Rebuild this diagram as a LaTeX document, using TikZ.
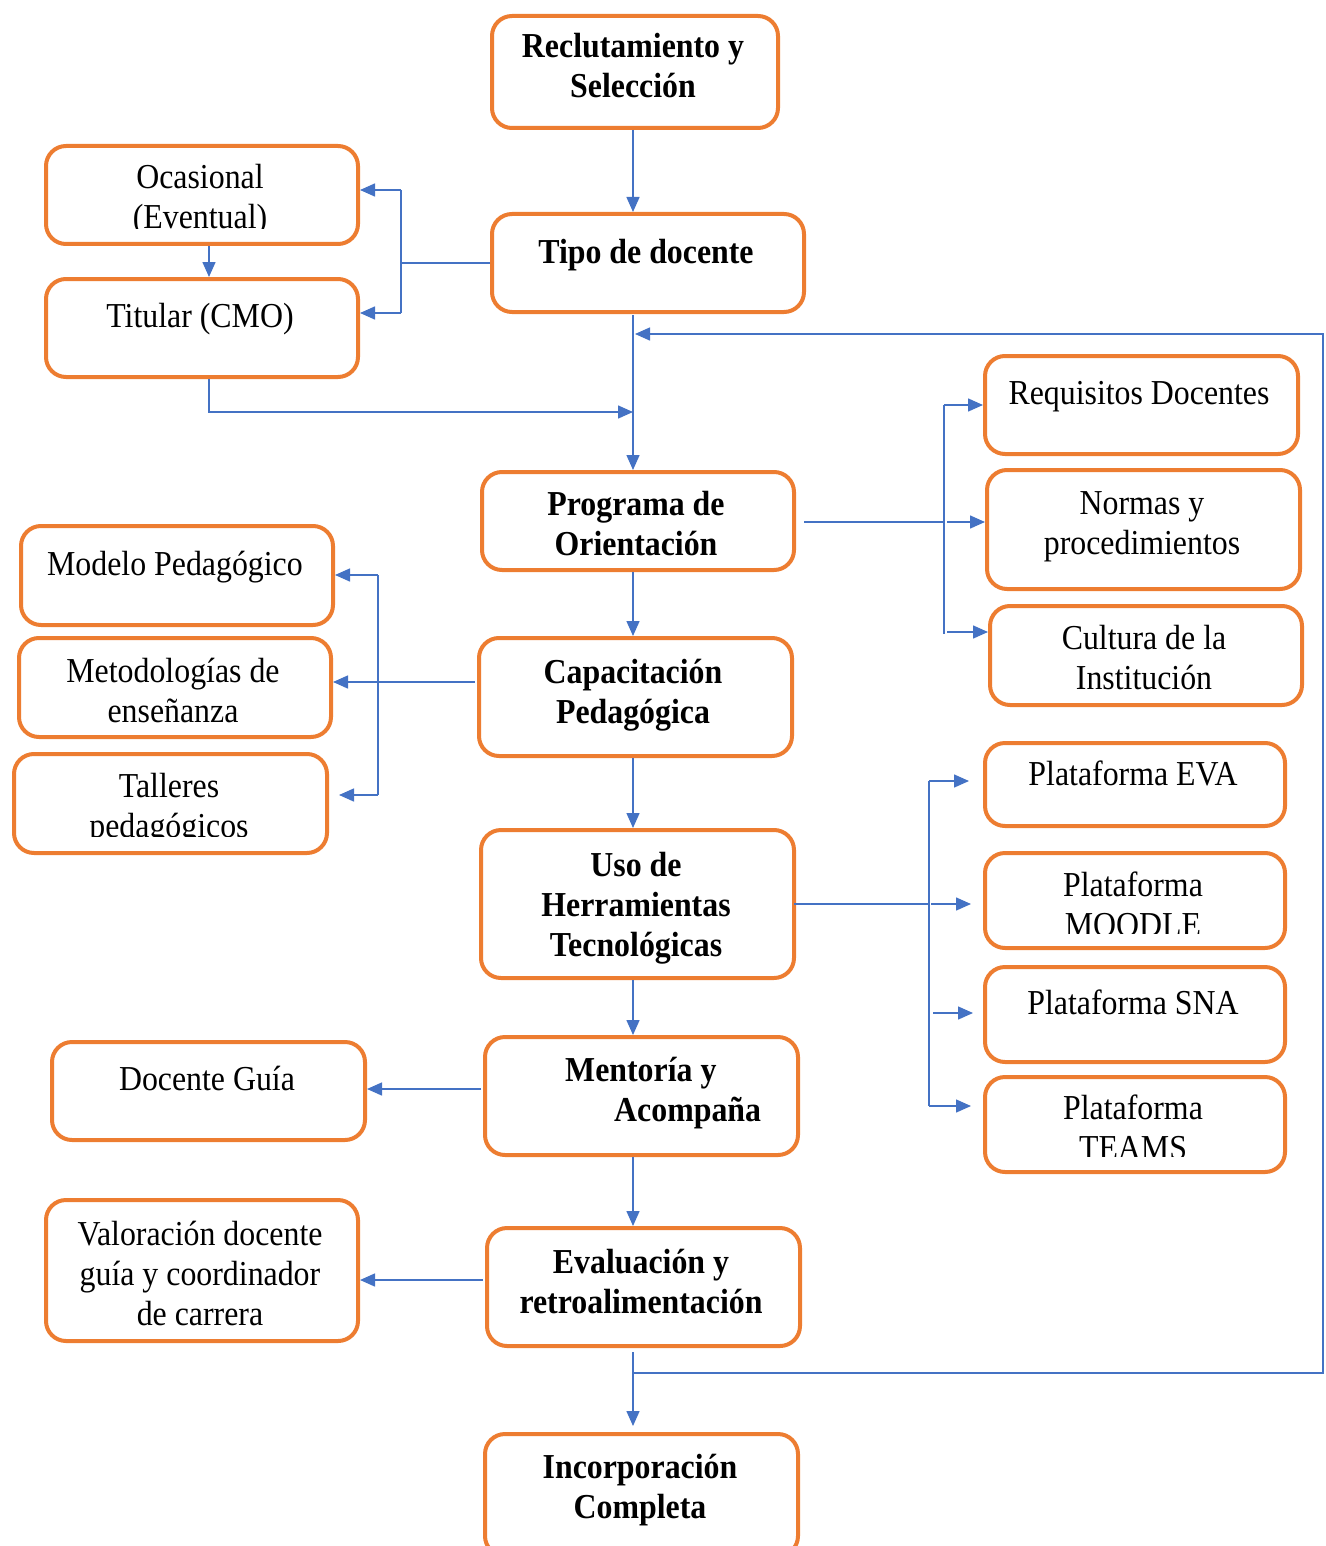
\documentclass[tikz,border=0pt]{standalone}
\usepackage{fontspec}
\setmainfont{Liberation Serif}[FakeStretch=0.91]
\usetikzlibrary{arrows.meta}
\definecolor{orng}{HTML}{ED7D31}
\definecolor{blu}{HTML}{4472C4}
\tikzset{
  box/.style={draw=orng, line width=4pt, rounded corners=20pt, anchor=north west, inner sep=0pt, fill=white},
  lbl/.style={font=\fontsize{35}{40}\selectfont, align=center, inner sep=0pt},
  blbl/.style={lbl, font=\bfseries\fontsize{35}{40}\selectfont},
  conn/.style={draw=blu, line width=1.5pt},
  arr/.style={conn, -{Triangle[length=15pt,width=13pt]}}
}
\newcommand\bx[5]{\node[box, minimum width={#4-#2-4}, minimum height={#5-#3-4}] (#1) at ({#2+2},{#3+2}) {};}
\begin{document}
\begin{tikzpicture}[x=1pt,y=-1pt]
\useasboundingbox (0,0) rectangle (1325,1546);
% main column
\bx{R}{488}{12}{778}{128}
\bx{T}{488}{210}{804}{312}
\bx{P}{478}{468}{794}{570}
\bx{C}{475}{634}{792}{756}
\bx{U}{477}{826}{794}{978}
\bx{M}{481}{1033}{798}{1155}
\bx{E}{483}{1224}{800}{1346}
\bx{I}{481}{1430}{798}{1556}
% left
\bx{ocas}{42}{142}{358}{244}
\bx{tit}{42}{275}{358}{377}
\bx{mod}{17}{522}{333}{625}
\bx{met}{15}{634}{331}{737}
\bx{tal}{10}{750}{327}{853}
\bx{dg}{48}{1038}{365}{1140}
\bx{val}{42}{1196}{358}{1341}
% right
\bx{req}{981}{352}{1298}{454}
\bx{norm}{983}{466}{1300}{589}
\bx{cult}{986}{602}{1302}{705}
\bx{eva}{981}{739}{1285}{826}
\bx{moo}{981}{849}{1285}{948}
\bx{sna}{981}{963}{1285}{1062}
\bx{tea}{981}{1073}{1285}{1172}
% texts
\node[blbl] (Rt) at (633,70) {\strut Reclutamiento y\\\strut Selección};
\node[blbl] (Tt) at (646,255) {\strut Tipo de docente};
\node[blbl] (Pt) at (636,527.5) {\strut Programa de\\\strut Orientación};
\node[blbl] (Ct) at (633,695) {\strut Capacitación\\\strut Pedagógica};
\node[blbl] (Ut) at (636,908) {\strut Uso de\\\strut Herramientas\\\strut Tecnológicas};
\node[blbl, align=left, anchor=west] (Mt) at (565,1093.5) {\strut Mentoría y\\\hspace*{49pt}\strut Acompaña};
\node[blbl] (Et) at (641,1285) {\strut Evaluación y\\\strut retroalimentación};
\node[blbl] (It) at (640,1490) {\strut Incorporación\\\strut Completa};
\begin{scope}
\clip (42,142) rectangle (358,229);
\node[lbl] (ocast) at (200,200.5) {\strut Ocasional\\\strut (Eventual)};
\end{scope}
\node[lbl] (titt) at (200,319) {\strut Titular (CMO)};
\node[lbl] (modt) at (175,567) {\strut Modelo Pedagógico};
\node[lbl] (mett) at (173,694) {\strut Metodologías de\\\strut enseñanza};
\begin{scope}
\clip (10,750) rectangle (327,836);
\node[lbl] (talt) at (169,809.5) {\strut Talleres\\\strut pedagógicos};
\end{scope}
\node[lbl] (dgt) at (207,1082) {\strut Docente Guía};
\node[lbl] (valt) at (200,1277) {\strut Valoración docente\\\strut guía y coordinador\\\strut de carrera};
\node[lbl] (reqt) at (1139,396) {\strut Requisitos Docentes};
\node[lbl] (normt) at (1142,526) {\strut Normas y\\\strut procedimientos};
\node[lbl] (cultt) at (1144,661.5) {\strut Cultura de la\\\strut Institución};
\node[lbl] (evat) at (1133,777) {\strut Plataforma EVA};
\begin{scope}
\clip (981,849) rectangle (1285,933);
\node[lbl] (moot) at (1133,908) {\strut Plataforma\\\strut MOODLE};
\end{scope}
\node[lbl] (snat) at (1133,1006) {\strut Plataforma SNA};
\begin{scope}
\clip (981,1073) rectangle (1285,1156);
\node[lbl] (teat) at (1133,1131.5) {\strut Plataforma\\\strut TEAMS};
\end{scope}
% coordinates
\coordinate (tb1) at (401,190);
\coordinate (tb2) at (401,313);
\coordinate (j1) at (633,412);
\coordinate (tp) at (633,315);
\coordinate (fb0) at (633,1373);
\coordinate (fbR) at (1323,1373);
\coordinate (fbE) at (635,334);
\coordinate (pr) at (804,522);
\coordinate (pv1) at (944,405);
\coordinate (pv2) at (944,634);
\coordinate (pc) at (947,632);
\coordinate (cl) at (475,682);
\coordinate (cv1) at (378,575);
\coordinate (cv2) at (378,795);
\coordinate (ur) at (794,904);
\coordinate (uv1) at (929,781);
\coordinate (uv2) at (929,1106);
\coordinate (us) at (933,1013);
\coordinate (ml) at (481,1089);
\coordinate (el) at (483,1280);
\coordinate (eb) at (633,1352);
% connectors
\draw[arr] (R.south -| tp) -- (T.north -| tp);
\draw[conn] (T.west) -- (T.west -| tb1);
\draw[conn] (tb1) -- (tb2);
\draw[arr] (tb1) -- (tb1 -| ocas.east);
\draw[arr] (tb2) -- (tb2 -| tit.east);
\draw[arr] ([xshift=7pt]ocas.south) -- ([xshift=7pt]tit.north);
\draw[arr] ([xshift=7pt]tit.south) |- (j1);
\draw[arr] (tp) -- (tp |- P.north);
\draw[arr] (fb0) -- (fbR) |- (fbE);
\draw[conn] (pr) -- (pr -| pv1);
\draw[conn] (pv1) -- (pv2);
\draw[arr] (pv1) -- (pv1 -| req.west);
\draw[arr] ([xshift=3pt]pr -| pv1) -- (pr -| norm.west);
\draw[arr] (pc) -- (pc -| cult.west);
\draw[arr] (P.south -| tp) -- (C.north -| tp);
\draw[conn] (cl) -- (cl -| cv1);
\draw[conn] (cv1) -- (cv2);
\draw[arr] (cv1) -- (cv1 -| mod.east);
\draw[arr] (cl -| cv1) -- (cl -| met.east);
\draw[arr, shorten >=10pt] (cv2) -- (cv2 -| tal.east);
\draw[arr] (C.south -| tp) -- (U.north -| tp);
\draw[conn] (ur) -- (ur -| uv1);
\draw[conn] (uv1) -- (uv2);
\draw[arr, shorten >=14pt] (uv1) -- (uv1 -| eva.west);
\draw[arr, shorten >=12pt] ([xshift=2pt]ur -| uv1) -- (ur -| moo.west);
\draw[arr, shorten >=10pt] (us) -- (us -| sna.west);
\draw[arr, shorten >=12pt] (uv2) -- (uv2 -| tea.west);
\draw[arr] (U.south -| tp) -- (M.north -| tp);
\draw[arr] (ml) -- (ml -| dg.east);
\draw[arr] (M.south -| tp) -- (E.north -| tp);
\draw[arr] (el) -- (el -| val.east);
\draw[arr] (eb) -- ([yshift=6pt]eb |- I.north);
\end{tikzpicture}
\end{document}
